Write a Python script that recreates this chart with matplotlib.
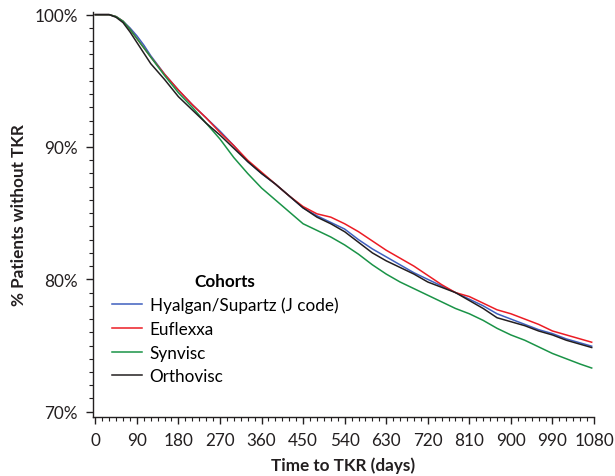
import numpy as np
import matplotlib
matplotlib.use('Agg')
import matplotlib.pyplot as plt
from matplotlib.ticker import MultipleLocator, FuncFormatter

# Kaplan-Meier style curves (days, % without TKR)
days = [0, 30, 45, 60, 75, 90, 105, 120, 150, 180, 210, 240, 270, 300, 330,
        360, 390, 420, 450, 480, 510, 540, 570, 600, 630, 660, 690, 720, 750,
        780, 810, 840, 870, 900, 930, 960, 990, 1020, 1050, 1075]

hyalgan = [100, 100, 99.85, 99.5, 99.0, 98.4, 97.7, 96.9, 95.5, 94.3, 93.2,
           92.2, 91.2, 90.1, 88.9, 88.0, 87.2, 86.3, 85.4, 84.8, 84.3, 83.8,
           83.0, 82.3, 81.7, 81.1, 80.5, 80.0, 79.5, 79.0, 78.5, 78.0, 77.4,
           77.0, 76.6, 76.2, 75.9, 75.5, 75.2, 74.95]
euflexxa = [100, 100, 99.85, 99.5, 98.9, 98.2, 97.5, 96.8, 95.5, 94.3, 93.2,
            92.2, 91.1, 90.1, 89.0, 88.1, 87.2, 86.3, 85.5, 84.95, 84.7, 84.2,
            83.6, 82.9, 82.2, 81.6, 81.0, 80.3, 79.6, 79.0, 78.7, 78.2, 77.7,
            77.4, 77.0, 76.6, 76.1, 75.8, 75.5, 75.25]
synvisc = [100, 100, 99.85, 99.5, 98.9, 98.2, 97.5, 96.8, 95.4, 94.1, 93.0,
           91.8, 90.6, 89.2, 88.0, 86.9, 86.0, 85.1, 84.2, 83.7, 83.2, 82.6,
           81.9, 81.1, 80.4, 79.8, 79.3, 78.8, 78.3, 77.8, 77.4, 76.9, 76.3,
           75.8, 75.4, 74.9, 74.4, 74.0, 73.6, 73.3]
orthovisc = [100, 100, 99.8, 99.4, 98.7, 97.9, 97.1, 96.3, 95.1, 93.8, 92.8,
             91.8, 90.9, 89.9, 88.9, 88.0, 87.2, 86.3, 85.4, 84.7, 84.2, 83.6,
             82.8, 82.0, 81.4, 80.9, 80.4, 79.8, 79.4, 79.0, 78.4, 77.8, 77.1,
             76.8, 76.5, 76.1, 75.8, 75.4, 75.1, 74.85]

labels = ['Hyalgan/Supartz (J code)', 'Euflexxa', 'Synvisc', 'Orthovisc']
colors = ['#3f5fbf', '#ec1c24', '#1a9347', '#231f20']
series = [hyalgan, euflexxa, synvisc, orthovisc]

plt.rcParams['font.family'] = ['Lato', 'DejaVu Sans']
fs = 12.3

fig = plt.figure(figsize=(6.15, 4.77), dpi=100)
ax = fig.add_axes([93/615, 1 - 418/477, 501/615, 405/477])

for ys, c, lab in zip(series, colors, labels):
    ax.plot(days, ys, color=c, lw=1.1, label=lab)

ax.set_xlim(-5, 1080)
ax.set_ylim(69.6, 100.2)
ax.xaxis.set_major_locator(MultipleLocator(90))
ax.xaxis.set_minor_locator(MultipleLocator(15))
ax.yaxis.set_major_locator(MultipleLocator(10))
ax.yaxis.set_minor_locator(MultipleLocator(1))
ax.yaxis.set_major_formatter(FuncFormatter(lambda v, p: '%d%%' % v))

for s in ['top', 'right']:
    ax.spines[s].set_visible(False)
for s in ['left', 'bottom']:
    ax.spines[s].set_linewidth(1.0)
    ax.spines[s].set_color('#231f20')

ax.tick_params(which='major', length=5, width=1.0, labelsize=fs,
               color='#231f20', labelcolor='#231f20')
ax.tick_params(which='minor', length=3, width=0.8, color='#231f20')
ax.tick_params(axis='x', which='major', pad=6)
ax.tick_params(axis='y', which='major', pad=6)

ax.set_xlabel('Time to TKR (days)', fontsize=fs, fontweight='bold',
              color='#231f20', labelpad=6)
ax.set_ylabel('% Patients without TKR', fontsize=fs, fontweight='bold',
              color='#231f20', labelpad=5)

leg = ax.legend(loc='upper left', bbox_to_anchor=(112/615, 1 - 274/477),
                bbox_transform=fig.transFigure, frameon=False, fontsize=fs,
                title='Cohorts', title_fontproperties={'weight': 'bold', 'size': fs},
                handlelength=1.75, handletextpad=0.45, labelspacing=0.45,
                borderpad=0, borderaxespad=0)

fig.savefig('out.png', dpi=100)
